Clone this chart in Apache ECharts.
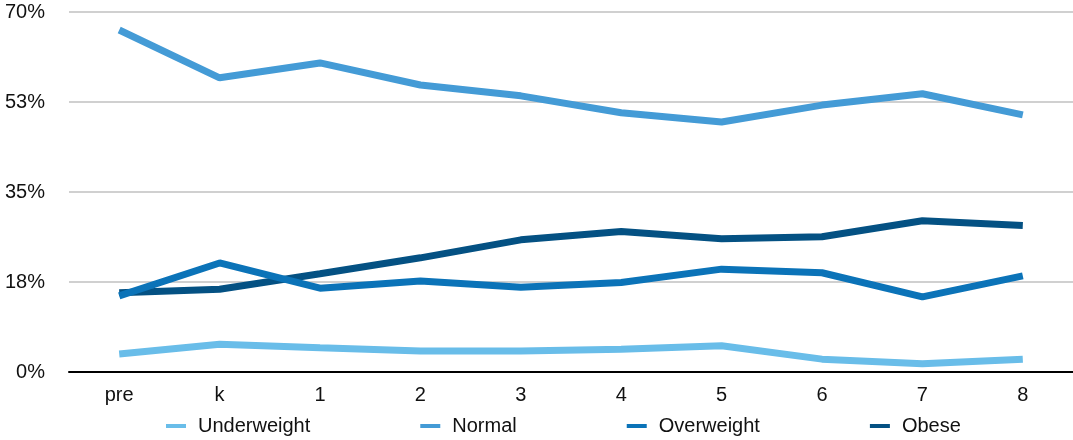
<!DOCTYPE html>
<html>
<head>
<meta charset="utf-8">
<script src="https://cdn.jsdelivr.net/npm/echarts@6/dist/echarts.min.js"></script>
<style>html,body{margin:0;padding:0;background:#fff}#c{width:1073px;height:440px}</style>
</head>
<body>
<div id="c"></div>
<script>
var categories = ['pre', 'k', '1', '2', '3', '4', '5', '6', '7', '8'];
var seriesNames = ['Underweight', 'Normal', 'Overweight', 'Obese'];
var underweight = [3.5, 5.4, 4.7, 4.1, 4.1, 4.4, 5.1, 2.5, 1.6, 2.5];
var normal = [66.5, 57.2, 60.1, 55.8, 53.7, 50.4, 48.6, 51.9, 54.1, 50.0];
var overweight = [14.8, 21.2, 16.3, 17.7, 16.5, 17.4, 20.0, 19.3, 14.6, 18.7];
var obese = [15.4, 16.1, 19.1, 22.2, 25.7, 27.3, 25.9, 26.3, 29.4, 28.5];
var colors = ['#69bde9', '#449bd6', '#0b73b8', '#045183'];

var font = 'Liberation Sans, Arial, Helvetica, sans-serif';
var chart = echarts.init(document.getElementById('c'), null, {renderer: 'canvas'});
var data = [underweight, normal, overweight, obese];
chart.setOption({
  animation: false,
  color: colors,
  grid: {left: 69, right: 0, top: 12, bottom: 68},
  legend: {
    left: 166, bottom: 4, padding: 0, itemGap: 110, itemWidth: 20, itemHeight: 4, icon: 'rect',
    textStyle: {fontFamily: font, fontSize: 20, color: '#111', padding: [0, 0, 0, 7]},
    data: seriesNames
  },
  xAxis: {
    type: 'category', data: categories, boundaryGap: true,
    axisLine: {lineStyle: {color: '#000', width: 2}},
    axisTick: {show: false},
    axisLabel: {fontFamily: font, fontSize: 20, color: '#111', margin: 13}
  },
  yAxis: {
    type: 'value', min: 0, max: 70, interval: 17.5,
    axisLine: {show: false}, axisTick: {show: false},
    splitLine: {lineStyle: {color: '#c0c0c0', width: 1.5}},
    axisLabel: {fontFamily: font, fontSize: 20, color: '#111', margin: 24,
      formatter: function (v) { return Math.round(v) + '%'; }}
  },
  series: seriesNames.map(function (n, i) {
    return {name: n, type: 'line', data: data[i], symbol: 'none',
      lineStyle: {width: 7, color: colors[i]}, z: 2 + (i === 3 ? 0 : 1)};
  })
});
</script>
</body>
</html>
